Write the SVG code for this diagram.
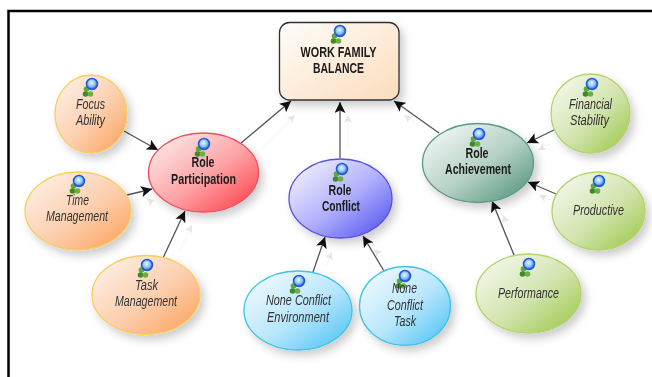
<svg xmlns="http://www.w3.org/2000/svg" width="652" height="377" viewBox="0 0 652 377">
<style>
text{font-family:"Liberation Sans",Arial,sans-serif;font-size:14.500px;text-anchor:middle;filter:url(#soft)}
.t{font-weight:bold;fill:#1c1c1c}
.i{font-style:italic;fill:#333}
.n{stroke-width:1.3;filter:url(#sh)}
.c{stroke:#555;stroke-width:1.3;fill:none;marker-end:url(#a)}
.g{stroke:#f3f3f3;stroke-width:1;fill:none;marker-end:url(#ga)}
</style>
<defs>
<filter id="soft" x="-5%" y="-20%" width="110%" height="140%"><feGaussianBlur stdDeviation="0.35"/></filter>
<filter id="sh" x="-15%" y="-15%" width="135%" height="135%"><feDropShadow dx="4" dy="5" stdDeviation="4" flood-color="#000" flood-opacity="0.2"/></filter>
<marker id="a" markerUnits="userSpaceOnUse" markerWidth="13" markerHeight="12" refX="11" refY="5.500" orient="auto"><path d="M0 0L11 5.500L0 11L2.500 5.500Z" fill="#111"/></marker>
<marker id="ga" markerUnits="userSpaceOnUse" markerWidth="10" markerHeight="10" refX="8" refY="4" orient="auto"><path d="M0 0L8 4L0 8L2 4Z" fill="#e6e6e6"/></marker>
<linearGradient id="box" x1="0" y1="0" x2="1" y2="1"><stop offset="0" stop-color="#fffdf9"/><stop offset="1" stop-color="#fcdcbc"/></linearGradient>
<linearGradient id="or" x1="0.1" y1="0.1" x2="0.9" y2="0.9"><stop offset="0" stop-color="#fdeee2"/><stop offset="0.55" stop-color="#fccfae"/><stop offset="1" stop-color="#fda868"/></linearGradient>
<linearGradient id="rd" x1="0.1" y1="0.1" x2="0.9" y2="0.9"><stop offset="0" stop-color="#fde6e6"/><stop offset="0.55" stop-color="#fda2a4"/><stop offset="1" stop-color="#fd4d55"/></linearGradient>
<linearGradient id="bl" x1="0.1" y1="0.1" x2="0.9" y2="0.9"><stop offset="0" stop-color="#eeeefe"/><stop offset="0.55" stop-color="#aeaefc"/><stop offset="1" stop-color="#5e5ef0"/></linearGradient>
<linearGradient id="cy" x1="0.1" y1="0.1" x2="0.9" y2="0.9"><stop offset="0" stop-color="#eef9fe"/><stop offset="0.55" stop-color="#b8e6fb"/><stop offset="1" stop-color="#5cc8f6"/></linearGradient>
<linearGradient id="te" x1="0.1" y1="0.1" x2="0.9" y2="0.9"><stop offset="0" stop-color="#f0f5f3"/><stop offset="0.55" stop-color="#b4d0c4"/><stop offset="1" stop-color="#5f9c82"/></linearGradient>
<linearGradient id="gr" x1="0.1" y1="0.1" x2="0.9" y2="0.9"><stop offset="0" stop-color="#f3f7ea"/><stop offset="0.55" stop-color="#d2e4ae"/><stop offset="1" stop-color="#a4cc58"/></linearGradient>
<radialGradient id="lens" cx="0.45" cy="0.4" r="0.6"><stop offset="0" stop-color="#e8f6ff"/><stop offset="0.55" stop-color="#8cc4f4"/><stop offset="1" stop-color="#1c5ce0"/></radialGradient>
<g id="ic">
<circle cx="-3.500" cy="4" r="2.800" fill="#5fa83c"/><circle cx="-4.500" cy="9" r="2.800" fill="#3e8a2a"/><circle cx="0.500" cy="9" r="2.800" fill="#6cb044"/>
<circle cx="2" cy="-1" r="5.500" fill="url(#lens)" stroke="#2058d8" stroke-width="1.500"/>
</g>
</defs>
<path d="M652 11H8.500V377" fill="none" stroke="#000" stroke-width="2.500"/>
<g id="connectors">
<path class="g" d="M262 148L295 115"/><path class="g" d="M348 150V115"/><path class="g" d="M418 125L404 115"/>
<path class="g" d="M550 144L538 150"/><path class="g" d="M550 200L539 195"/><path class="g" d="M508 228L503 215"/>
<path class="g" d="M326 266L332 252"/><path class="g" d="M383 258L374 249"/><path class="g" d="M180 250L192 225"/><path class="g" d="M145 203L155 200"/>
<path class="c" d="M124 131L158 150"/><path class="c" d="M127 195L152 189"/><path class="c" d="M163 258L185 211"/>
<path class="c" d="M241 143L291 101"/><path class="c" d="M340 158V102"/><path class="c" d="M439 133L394 101"/>
<path class="c" d="M554 130L527 143"/><path class="c" d="M556 194L528 182"/><path class="c" d="M514 255L492 201"/>
<path class="c" d="M313 272L325 237"/><path class="c" d="M384 271L363 236"/>
</g>
<g id="work-family-balance"><rect class="n" x="279.500" y="22.500" width="119.500" height="77.500" rx="10" fill="url(#box)" stroke="#333"/><use href="#ic" x="338" y="32"/><text class="t" x="338.500" y="57" textLength="76" lengthAdjust="spacingAndGlyphs">WORK FAMILY</text><text class="t" x="338.500" y="73" textLength="51" lengthAdjust="spacingAndGlyphs">BALANCE</text></g>
<g id="focus-ability"><ellipse class="n" cx="91" cy="114" rx="36" ry="39" fill="url(#or)" stroke="#f5d060"/><use href="#ic" x="90" y="85"/><text class="i" x="90.500" y="109" textLength="29" lengthAdjust="spacingAndGlyphs">Focus</text><text class="i" x="90.500" y="125" textLength="29" lengthAdjust="spacingAndGlyphs">Ability</text></g>
<g id="time-management"><ellipse class="n" cx="78" cy="211" rx="53" ry="39" fill="url(#or)" stroke="#f5d060"/><use href="#ic" x="77" y="182"/><text class="i" x="77.500" y="205" textLength="23" lengthAdjust="spacingAndGlyphs">Time</text><text class="i" x="77" y="221" textLength="62" lengthAdjust="spacingAndGlyphs">Management</text></g>
<g id="task-management"><ellipse class="n" cx="146" cy="295" rx="54" ry="39.500" fill="url(#or)" stroke="#f5d060"/><use href="#ic" x="145" y="266"/><text class="i" x="146.500" y="290" textLength="23" lengthAdjust="spacingAndGlyphs">Task</text><text class="i" x="146" y="306" textLength="62" lengthAdjust="spacingAndGlyphs">Management</text></g>
<g id="role-participation"><ellipse class="n" cx="203.500" cy="172.500" rx="55" ry="39.500" fill="url(#rd)" stroke="#ee5060"/><use href="#ic" x="202" y="145"/><text class="t" x="203" y="167" textLength="23" lengthAdjust="spacingAndGlyphs">Role</text><text class="t" x="203.500" y="184" textLength="65" lengthAdjust="spacingAndGlyphs">Participation</text></g>
<g id="role-conflict"><ellipse class="n" cx="340.500" cy="198.500" rx="51.500" ry="39.500" fill="url(#bl)" stroke="#5a50e0"/><use href="#ic" x="340" y="170"/><text class="t" x="340" y="195" textLength="23" lengthAdjust="spacingAndGlyphs">Role</text><text class="t" x="341" y="210.500" textLength="38" lengthAdjust="spacingAndGlyphs">Conflict</text></g>
<g id="none-conflict-environment"><ellipse class="n" cx="298" cy="310.500" rx="54" ry="39.500" fill="url(#cy)" stroke="#40c4e4"/><use href="#ic" x="297" y="282"/><text class="i" x="298.500" y="305" textLength="65" lengthAdjust="spacingAndGlyphs">None Conflict</text><text class="i" x="298" y="322" textLength="62" lengthAdjust="spacingAndGlyphs">Environment</text></g>
<g id="none-conflict-task"><ellipse class="n" cx="405" cy="306" rx="45.500" ry="39.500" fill="url(#cy)" stroke="#40c4e4"/><use href="#ic" x="403" y="277"/><text class="i" x="404.500" y="293" textLength="25" lengthAdjust="spacingAndGlyphs">None</text><text class="i" x="405" y="310" textLength="36" lengthAdjust="spacingAndGlyphs">Conflict</text><text class="i" x="405" y="326" textLength="22" lengthAdjust="spacingAndGlyphs">Task</text></g>
<g id="role-achievement"><ellipse class="n" cx="478" cy="163" rx="55.500" ry="39.500" fill="url(#te)" stroke="#5a9a88"/><use href="#ic" x="477" y="135"/><text class="t" x="477" y="158" textLength="23" lengthAdjust="spacingAndGlyphs">Role</text><text class="t" x="478" y="174" textLength="66" lengthAdjust="spacingAndGlyphs">Achievement</text></g>
<g id="financial-stability"><ellipse class="n" cx="590.500" cy="113.500" rx="39.500" ry="39.500" fill="url(#gr)" stroke="#b4d46c"/><use href="#ic" x="590" y="85"/><text class="i" x="590.500" y="109" textLength="43" lengthAdjust="spacingAndGlyphs">Financial</text><text class="i" x="589.500" y="125" textLength="39" lengthAdjust="spacingAndGlyphs">Stability</text></g>
<g id="productive"><ellipse class="n" cx="598.500" cy="211" rx="46.500" ry="39" fill="url(#gr)" stroke="#b4d46c"/><use href="#ic" x="597" y="182"/><text class="i" x="598.500" y="215" textLength="51" lengthAdjust="spacingAndGlyphs">Productive</text></g>
<g id="performance"><ellipse class="n" cx="528.500" cy="293.500" rx="52.500" ry="39.500" fill="url(#gr)" stroke="#b4d46c"/><use href="#ic" x="527" y="265"/><text class="i" x="528.500" y="298" textLength="61" lengthAdjust="spacingAndGlyphs">Performance</text></g>
</svg>
